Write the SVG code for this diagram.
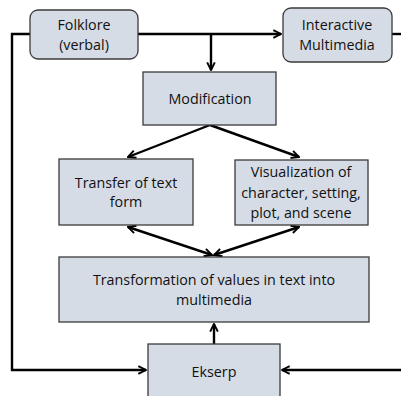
<svg xmlns="http://www.w3.org/2000/svg" width="401" height="396" viewBox="0 0 401 396">
<style>
.box{fill:#d6dce5;stroke:#3a3a3a;stroke-width:1.3}
.t{font-family:"Open Sans","Liberation Sans",sans-serif;font-size:14.3px;fill:#111;text-anchor:middle}
.c{fill:none;stroke:#000;stroke-width:2.4}
</style>
<defs>
<marker id="ah" viewBox="0 0 10 10" refX="9" refY="5" markerWidth="4" markerHeight="4" orient="auto-start-reverse" markerUnits="strokeWidth">
<path d="M1,1 L9,5 L1,9" fill="none" stroke="#000" stroke-width="2"/>
</marker>
</defs>
<rect width="401" height="396" fill="#fff"/>
<g id="connectors">
<path class="c" d="M138,34 H281" marker-end="url(#ah)"/>
<path class="c" d="M30,34 H12 V370 H146" marker-end="url(#ah)"/>
<path class="c" d="M392,34 H401"/>
<path class="c" d="M401,370 H282" marker-end="url(#ah)"/>
<path class="c" d="M211,34 V70" marker-end="url(#ah)"/>
<path class="c" d="M210,125 L128,157" marker-end="url(#ah)"/>
<path class="c" d="M210,125 L299,157" marker-end="url(#ah)"/>
<path class="c" d="M128,227 L212,255" marker-start="url(#ah)" marker-end="url(#ah)"/>
<path class="c" d="M299,227 L214,255" marker-start="url(#ah)" marker-end="url(#ah)"/>
<path class="c" d="M214,344 V324" marker-end="url(#ah)"/>
</g>
<g id="folklore">
<rect class="box" x="30" y="10" width="108" height="49" rx="8"/>
<text class="t" x="84" y="30">Folklore</text>
<text class="t" x="84" y="50">(verbal)</text>
</g>
<g id="interactive">
<rect class="box" x="283" y="8" width="109" height="54" rx="8"/>
<text class="t" x="337" y="30">Interactive</text>
<text class="t" x="337" y="50">Multimedia</text>
</g>
<g id="modification">
<rect class="box" x="143" y="72" width="133" height="53"/>
<text class="t" x="210" y="104">Modification</text>
</g>
<g id="transfer">
<rect class="box" x="59" y="159" width="134" height="66"/>
<text class="t" x="126" y="188">Transfer of text</text>
<text class="t" x="126" y="207">form</text>
</g>
<g id="visualization">
<rect class="box" x="235" y="160" width="133" height="65"/>
<text class="t" x="301" y="177">Visualization of</text>
<text class="t" x="301" y="198">character, setting,</text>
<text class="t" x="301" y="218">plot, and scene</text>
</g>
<g id="transformation">
<rect class="box" x="59" y="257" width="310" height="65"/>
<text class="t" x="214" y="285">Transformation of values in text into</text>
<text class="t" x="214" y="305">multimedia</text>
</g>
<g id="ekserp">
<rect class="box" x="148" y="344" width="132" height="60"/>
<text class="t" x="214" y="377">Ekserp</text>
</g>
</svg>
